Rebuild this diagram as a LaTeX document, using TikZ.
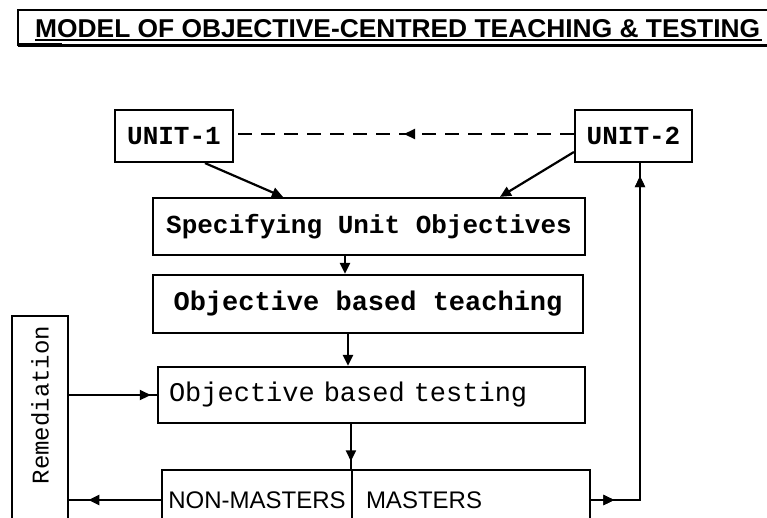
\documentclass[tikz,border=0pt]{standalone}
\usepackage{fontspec}
\usepackage{graphicx}
\setmonofont{Liberation Mono}
\setsansfont{Liberation Sans}
\usetikzlibrary{arrows.meta,decorations.markings}
\tikzset{
  boxst/.style={draw, line width=2.2pt, inner sep=0pt, anchor=center},
  monob/.style={font=\ttfamily\bfseries\fontsize{26}{30}\selectfont},
  monom/.style={font=\ttfamily\bfseries\fontsize{27}{30}\selectfont},
  monor/.style={font=\ttfamily\fontsize{27}{30}\selectfont},
  sansr/.style={font=\sffamily\fontsize{24}{28}\selectfont},
  conn/.style={line width=2.2pt},
  tipend/.style={-{Triangle[length=11pt,width=10pt]}},
  midtip/.style={postaction={decorate}, decoration={markings, mark=at position #1 with {\arrow{Triangle[length=11pt,width=10pt]}}}},
}
\begin{document}
\begin{tikzpicture}[x=1pt,y=-1pt]
\useasboundingbox (0,0) rectangle (767,517);
\clip (0,0) rectangle (767,517);
% title frame
\node[anchor=base west, inner sep=0pt] (title) at (35,37)
  {\resizebox{725pt}{18pt}{\sffamily\bfseries MODEL OF OBJECTIVE-CENTRED TEACHING \& TESTING}};
\draw[line width=2.2pt] (18,46) -- (18,10) -- (767,10);
\draw[line width=1.5pt] (35,40) -- (762,40);
\draw[line width=2.8pt] (18,45.5) -- (767,45.5);
\draw[line width=3.8pt] (18,45) -- (62,45);
% nodes
\node[boxst, monob, minimum width=118pt, minimum height=52pt] (u1) at (174,136) {UNIT-1};
\node[boxst, monob, minimum width=117pt, minimum height=52pt] (u2) at (633.5,136) {UNIT-2};
\node[boxst, monob, minimum width=432pt, minimum height=57pt] (spec) at (369,226.5) {Specifying Unit Objectives};
\node[boxst, monom, minimum width=430pt, minimum height=58pt] (teach) at (368,304) {Objective based teaching};
\node[boxst, monor, minimum width=427pt, minimum height=56pt, text width=405pt, align=left, inner xsep=10pt] (test) at (371.5,395) {Objective based testing};
\node[boxst, minimum width=56pt, minimum height=220pt] (rem) at (40,426) {};
\node[monor, font=\ttfamily\fontsize{24}{28}\selectfont, rotate=90, inner sep=0pt] (remtxt) at (40,405) {Remediation};
\node[boxst, sansr, minimum width=190pt, minimum height=60pt] (nm) at (257,500) {NON-MASTERS};
\node[boxst, sansr, minimum width=238pt, minimum height=60pt, text width=210pt, align=left, inner xsep=12pt] (ms) at (471,500) {MASTERS};
% connectors
\draw[conn, dashed, dash pattern=on 14pt off 9pt, midtip=0.5] (u2.west |- 0,134) -- (u1.east |- 0,134);
\draw[conn, tipend] ([xshift=31pt]u1.south) -- ([xshift=-86pt]spec.north);
\draw[conn, tipend] ([yshift=-16pt]u2.west) -- ([xshift=131pt]spec.north);
\draw[conn, tipend] ([xshift=-24pt]spec.south) -- ([xshift=-23pt]teach.north);
\draw[conn, tipend] ([xshift=-20pt]teach.south) -- ([xshift=-23.5pt]test.north);
\draw[conn, midtip=0.93] (test.west -| rem.east) -- (test.west);
\draw[conn, midtip=0.83] (test.south -| ms.north west) -- (ms.north west);
\draw[conn, midtip=0.79] (nm.west) -- (nm.west -| rem.east);
\draw[conn, midtip=0.06, midtip=0.966] (ms.east) -| ([xshift=6.5pt]u2.south);
\end{tikzpicture}
\end{document}
